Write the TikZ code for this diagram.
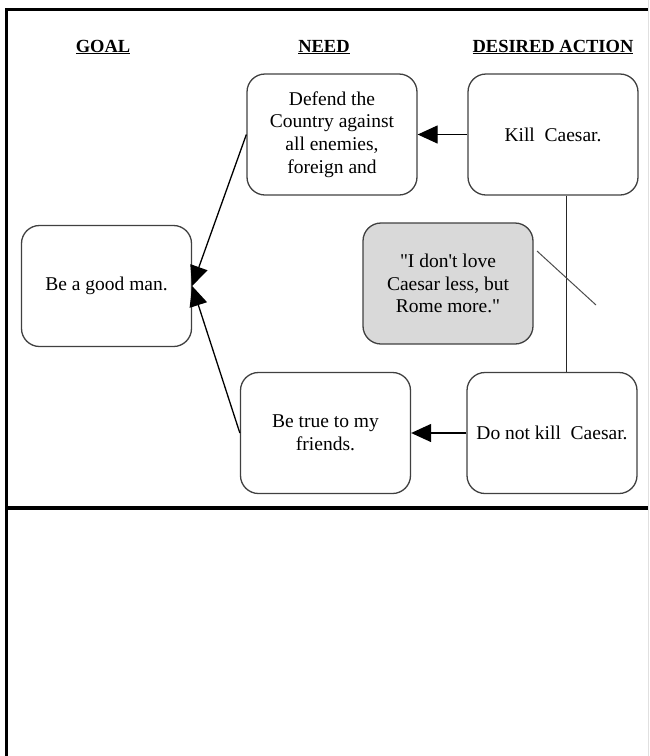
\documentclass[tikz,border=0pt]{standalone}
\usepackage{fontspec}
\setmainfont{Liberation Serif}[Ligatures=TeXOff]
\usetikzlibrary{arrows.meta}
\definecolor{quotegray}{HTML}{D9D9D9}
\begin{document}
\begin{tikzpicture}[x=1pt,y=-1pt,
  box/.style={draw=black!75, line width=1.3pt, rounded corners=18pt,
    minimum width=170pt, minimum height=121pt, align=center, inner sep=0pt,
    font=\fontsize{19.5}{22.7}\selectfont},
  hdr/.style={font=\fontsize{18.5}{21}\selectfont\bfseries, inner sep=0pt, anchor=base},
  conn/.style={draw=black, line width=1.3pt},
  arr/.style={conn, -{Triangle[length=20pt,width=18pt]}},
  frameline/.style={line width=3.6pt, black}]
\useasboundingbox (0,0) rectangle (649,756);
% frame
\draw[frameline, line join=miter] (649,9.5) -- (6.5,9.5) -- (6.5,756);
\draw[frameline] (6.5,508) -- (649,508);
\draw[black!12, line width=1pt] (648.5,0) -- (648.5,756);
% headers
\node[hdr] (hgoal) at (103,52) {\underline{GOAL}};
\node[hdr] (hneed) at (324,52) {\underline{NEED}};
\node[hdr] (hact) at (553,52) {\underline{DESIRED ACTION}};
% boxes
\node[box] (goal) at (106.5,286) {Be a good man.};
\node[box] (need1) at (332,134.5) {Defend the\\Country against\\all enemies,\\foreign and};
\node[box] (act1) at (553,134.5) {Kill~~Caesar.};
\node[box, fill=quotegray] (quote) at (448,283.5) {"I don't love\\Caesar less, but\\Rome more."};
\node[box] (need2) at (325.5,433) {Be true to my\\friends.};
\node[box] (act2) at (552,433) {Do not kill~~Caesar.};
% connectors
\draw[arr] (act1.west) -- (need1.east);
\draw[arr] (act2.west) -- (need2.east);
\draw[arr] (need1.west) -- (goal.east);
\draw[arr] (need2.west) -- (goal.east);
\draw[conn, draw=black!85] ([xshift=13.5pt]act1.south) -- ([xshift=14.5pt]act2.north);
\coordinate (d1) at (537,251);
\coordinate (d2) at (596,305);
\draw[draw=black!70, line width=1pt] (d1) -- (d2);
\end{tikzpicture}
\end{document}
